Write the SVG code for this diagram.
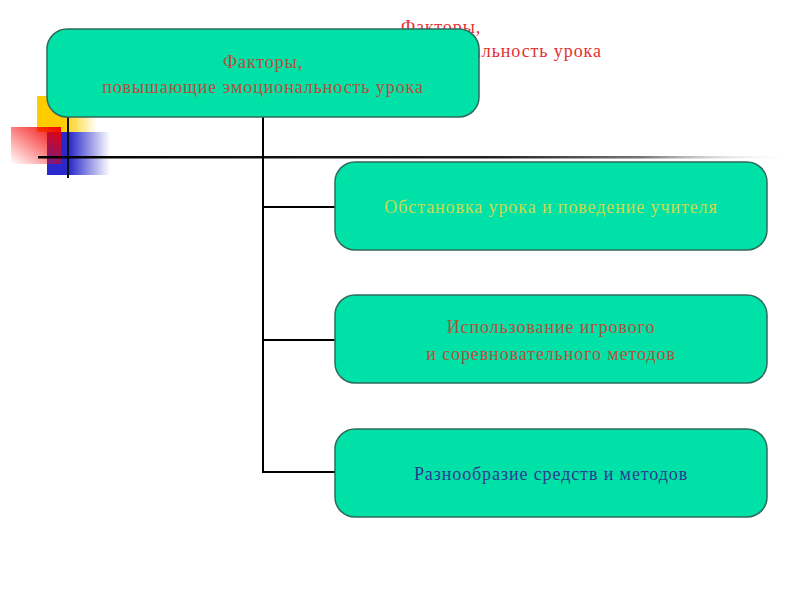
<svg xmlns="http://www.w3.org/2000/svg" width="800" height="600" viewBox="0 0 800 600">
<defs>
<linearGradient id="gY" x1="0" y1="0" x2="1" y2="0"><stop offset="0" stop-color="#FFCC00"/><stop offset="0.45" stop-color="#FFCC00"/><stop offset="1" stop-color="#FFCC00" stop-opacity="0"/></linearGradient>
<linearGradient id="gR" x1="1" y1="0" x2="0" y2="1"><stop offset="0" stop-color="#EE0000"/><stop offset="1" stop-color="#FF0000" stop-opacity="0"/></linearGradient>
<linearGradient id="gB" x1="0" y1="0" x2="1" y2="0"><stop offset="0" stop-color="#2A2ACC"/><stop offset="0.35" stop-color="#2A2ACC"/><stop offset="1" stop-color="#2A2ACC" stop-opacity="0"/></linearGradient>
<linearGradient id="gL" gradientUnits="userSpaceOnUse" x1="38" y1="0" x2="795" y2="0"><stop offset="0" stop-color="#000"/><stop offset="0.6" stop-color="#222"/><stop offset="0.8" stop-color="#777"/><stop offset="1" stop-color="#fff" stop-opacity="0"/></linearGradient>
</defs>
<style>
.box{fill:#00E1A8;stroke:#2E6B5C;stroke-width:1.5}
.t{font-family:"Liberation Serif","Times New Roman",serif;font-size:18px;text-anchor:middle;letter-spacing:0.9px}
.conn{stroke:#000;stroke-width:2;fill:none}
</style>
<g id="decor">
<rect x="37" y="96" width="60" height="36" fill="url(#gY)"/>
<rect x="47" y="132" width="63" height="43" fill="url(#gB)"/>
<rect x="11" y="127" width="50" height="37" fill="url(#gR)"/>
<line x1="68" y1="117" x2="68" y2="178" stroke="#111" stroke-width="2"/>
<rect x="38" y="156" width="757" height="2.5" fill="url(#gL)"/>
</g>
<text class="t" fill="#E53030" x="441" y="33">Факторы,</text>
<text class="t" fill="#E53030" x="441" y="57">повышающие эмоциональность урока</text>
<g id="connectors">
<path class="conn" d="M263 117 V472 H335 M263 207 H335 M263 340 H335"/>
</g>
<g id="main">
<rect class="box" x="47" y="29" width="432" height="88" rx="20"/>
<text class="t" fill="#B8503A" x="263" y="68">Факторы,</text>
<text class="t" fill="#B8503A" x="263" y="93">повышающие эмоциональность урока</text>
</g>
<g id="n1">
<rect class="box" x="335" y="162" width="432" height="88" rx="20"/>
<text class="t" fill="#C9DB4E" x="551" y="213">Обстановка урока и поведение учителя</text>
</g>
<g id="n2">
<rect class="box" x="335" y="295" width="432" height="88" rx="20"/>
<text class="t" fill="#B8503A" x="551" y="333">Использование игрового</text>
<text class="t" fill="#B8503A" x="551" y="360">и соревновательного методов</text>
</g>
<g id="n3">
<rect class="box" x="335" y="429" width="432" height="88" rx="20"/>
<text class="t" fill="#2B3D8F" x="551" y="480">Разнообразие средств и методов</text>
</g>
</svg>
